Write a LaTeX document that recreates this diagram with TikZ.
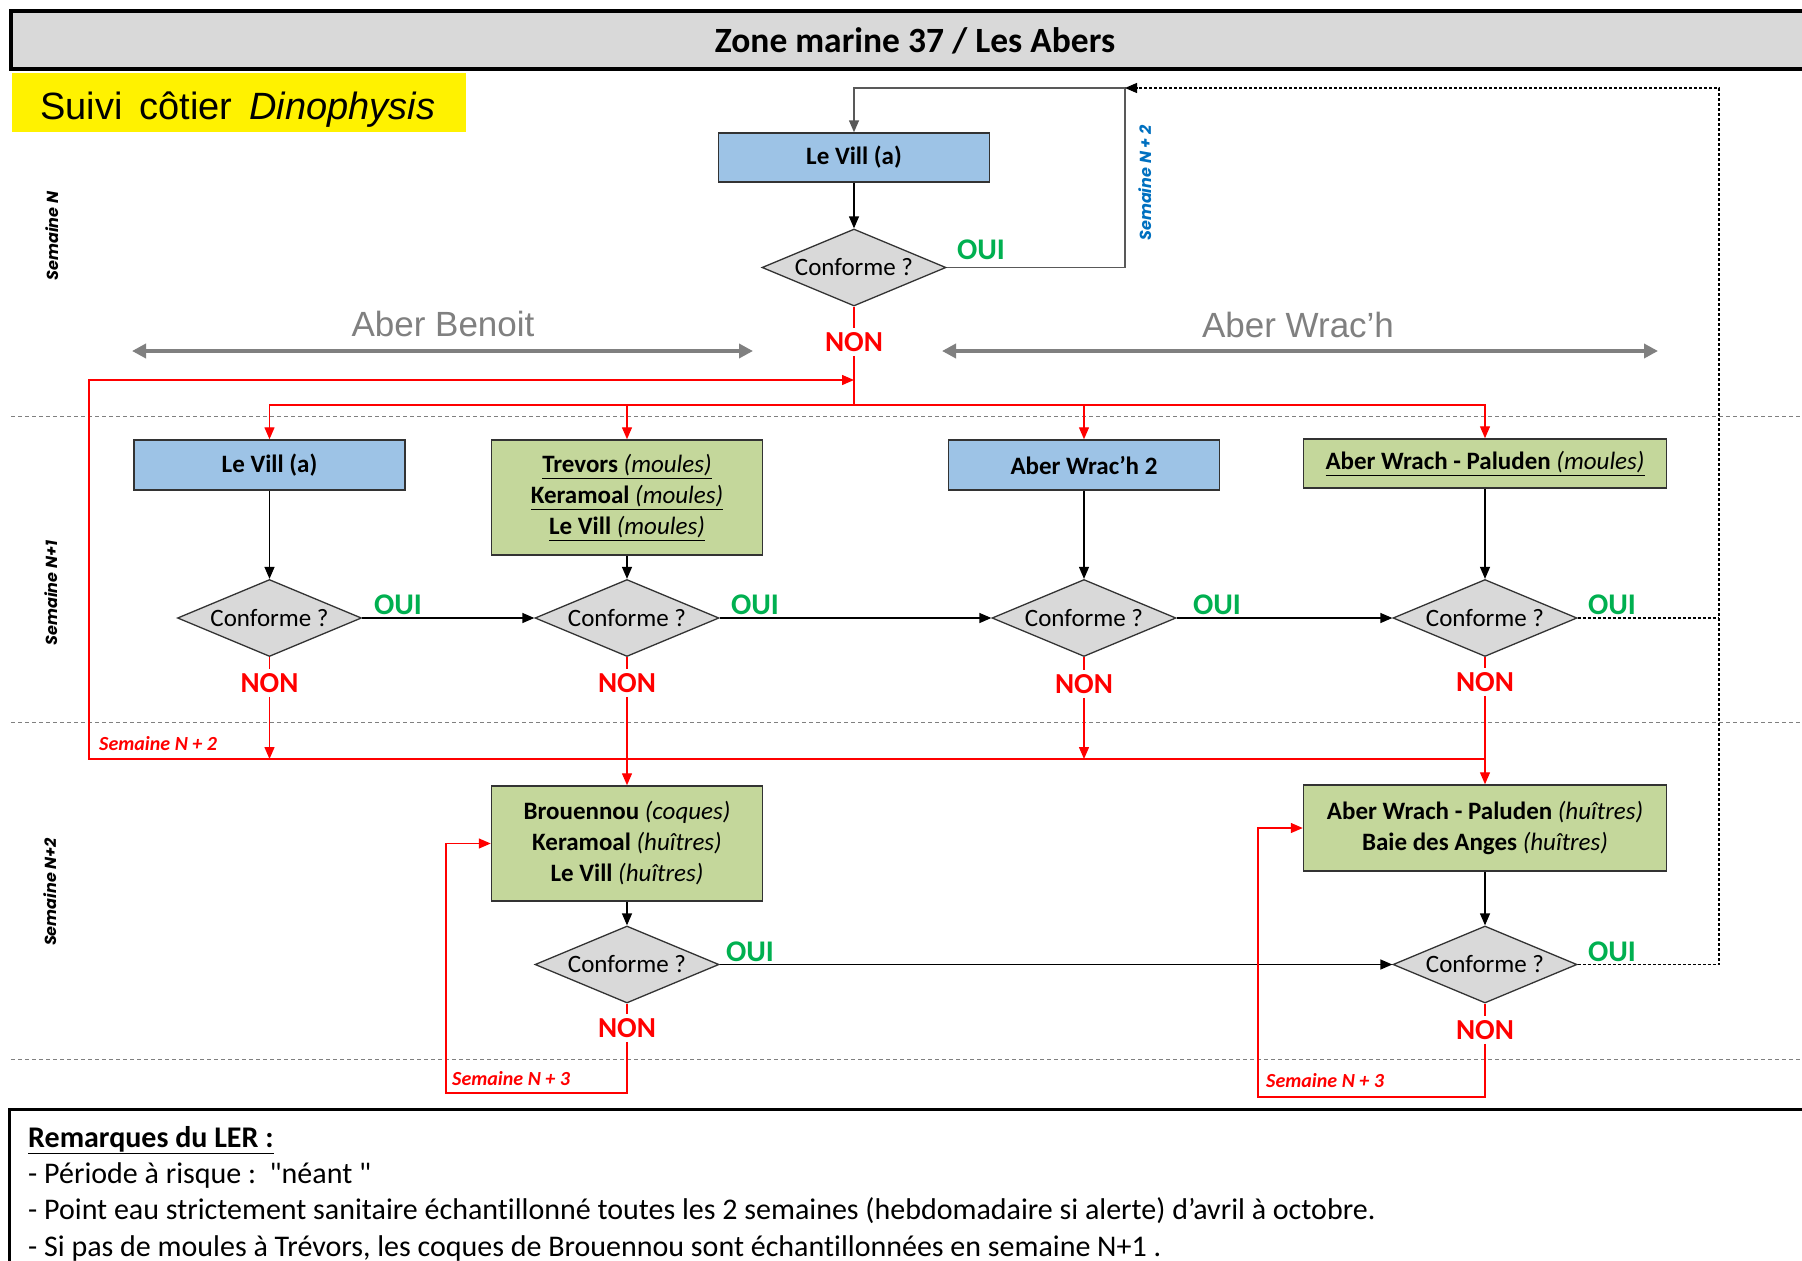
\documentclass[tikz,border=0pt]{standalone}
\usepackage{fontspec}
\setmainfont{Carlito}[Ligatures={TeX,NoCommon}]
\newfontfamily\quotefont{Carlito}
\newfontfamily\arialfont{Liberation Sans}
\newfontfamily\gothfont{Poppins}
\newcommand\myul[1]{\underline{#1}}
\usetikzlibrary{shapes.geometric,arrows.meta}
\definecolor{bluefill}{HTML}{9DC3E6}
\definecolor{greenfill}{HTML}{C4D79B}
\definecolor{diafill}{HTML}{D9D9D9}
\definecolor{titlefill}{HTML}{D9D9D9}
\definecolor{boxborder}{HTML}{333333}
\definecolor{ouigreen}{HTML}{00B050}
\definecolor{semblue}{HTML}{0070C0}
\definecolor{abergray}{HTML}{808080}
\definecolor{topgray}{HTML}{595959}
\tikzset{
  bluebox/.style={draw=boxborder, line width=1.5pt, fill=bluefill, inner sep=0pt,
    font=\fontsize{25}{30}\selectfont\bfseries, align=center},
  greenbox/.style={draw=boxborder, line width=1.5pt, fill=greenfill, inner sep=0pt,
    font=\fontsize{25}{31}\selectfont, align=center},
  decision/.style={diamond, draw=boxborder, line width=1.3pt, fill=diafill,
    minimum width=184pt, minimum height=77pt, inner sep=0pt, aspect=2.4,
    font=\fontsize{25}{28}\selectfont},
  ouilbl/.style={text=ouigreen, font=\fontsize{30}{32}\selectfont\bfseries, inner sep=0pt},
  nonlbl/.style={text=red, font=\fontsize{29}{31}\selectfont\bfseries, inner sep=4pt},
  flow/.style={draw=black, line width=1.3pt, -{Triangle[length=12pt,width=10pt]}},
  grayflow/.style={draw=topgray, line width=1.5pt, -{Triangle[length=12pt,width=10pt]}},
  redline/.style={draw=red, line width=1.4pt},
  redflow/.style={draw=red, line width=1.4pt, -{Triangle[length=12pt,width=10pt]}},
  dotflow/.style={draw=black, line width=1.2pt, dash pattern=on 3pt off 2pt},
  sepline/.style={draw=abergray, line width=1pt, dash pattern=on 4pt off 3pt},
  aberarrow/.style={draw=abergray, line width=3.5pt, {Triangle[length=14pt,width=14pt]}-{Triangle[length=14pt,width=14pt]}},
  aberlbl/.style={text=abergray, font=\arialfont\fontsize{35}{40}\selectfont, anchor=base},
  semblack/.style={rotate=90, font=\gothfont\fontsize{16}{18}\selectfont\bfseries\itshape, inner sep=0pt},
  semred/.style={text=red, anchor=west, font=\fontsize{20}{22}\selectfont\bfseries\itshape, inner sep=0pt},
  remark/.style={anchor=west, font=\fontsize{30}{34}\selectfont, inner sep=0pt},
}
\begin{document}
\begin{tikzpicture}[x=1pt,y=-1pt]
\useasboundingbox (0,0) rectangle (1802,1261);
\fill[white] (0,0) rectangle (1802,1261);

% title bar
\draw[line width=4pt, fill=titlefill] (11,11) rectangle (1815,69);
\node[font=\fontsize{35.5}{38}\selectfont\bfseries] (title) at (915,41) {Zone marine 37 / Les Abers};

% yellow label
\fill[yellow] (12,73) rectangle (466,132);
\node[anchor=base west, inner sep=0pt, font=\arialfont\fontsize{38}{40}\selectfont] (suivi) at (40,119) {Suivi\, côtier\, \textit{Dinophysis}};

% separators
\draw[sepline] (11,416) -- (1802,416);
\draw[sepline] (11,722) -- (1802,722);
\draw[sepline] (11,1059) -- (1802,1059);

% week labels
\node[semblack] (sN) at (52,236) {Semaine N};
\node[semblack] (sN1) at (51,593) {Semaine N+1};
\node[semblack] (sN2) at (50,892) {Semaine N+2};

% aber arrows
\coordinate (abL) at (132,351);
\coordinate (abR) at (753,351);
\coordinate (awL) at (942,351);
\coordinate (awR) at (1658,351);
\draw[aberarrow] (abL) -- (abR);
\draw[aberarrow] (awL) -- (awR);
\node[aberlbl] (aberB) at (443,336) {Aber Benoit};
\node[aberlbl] (aberW) at (1298,337) {Aber Wrac’h};

% nodes week N
\node[bluebox, minimum width=271pt, minimum height=49pt] (b0) at (854,157.5) {Le Vill (a)};
\node[decision] (d0) at (854,267.5) {Conforme ?};
\node[ouilbl] (o0) at (981,250) {OUI};
\node[nonlbl] (n0) at (854,342) {NON};

% nodes week N+1
\node[bluebox, minimum width=271pt, minimum height=50pt] (b1) at (269.5,465) {Le Vill (a)};
\node[greenbox, minimum width=271pt, minimum height=115pt] (b2) at (627,497.5)
  {\myul{\textbf{Trevors} \textit{(moules)}}\\\myul{\textbf{Keramoal} \textit{(moules)}}\\\myul{\textbf{Le Vill} \textit{(moules)}}};
\node[bluebox, minimum width=271pt, minimum height=50pt] (b3) at (1084,465) {Aber Wrac’h 2};
\node[greenbox, minimum width=363pt, minimum height=49pt] (b4) at (1485,463.5)
  {\myul{\textbf{Aber Wrach - Paluden} \textit{(moules)}}};

\node[decision] (d1) at (269.5,618) {Conforme ?};
\node[decision] (d2) at (627,618) {Conforme ?};
\node[decision] (d3) at (1084,618) {Conforme ?};
\node[decision] (d4) at (1485,618) {Conforme ?};

\node[ouilbl] (o1) at (398,605) {OUI};
\node[ouilbl] (o2) at (755,605) {OUI};
\node[ouilbl] (o3) at (1217,605) {OUI};
\node[ouilbl] (o4) at (1612,605) {OUI};

\node[nonlbl] (n1) at (269.5,683) {NON};
\node[nonlbl] (n2) at (627,683) {NON};
\node[nonlbl] (n3) at (1084,684) {NON};
\node[nonlbl] (n4) at (1485,682) {NON};

% nodes week N+2
\node[greenbox, minimum width=271pt, minimum height=115pt] (b5) at (627,843.5)
  {\textbf{Brouennou} \textit{(coques)}\\\textbf{Keramoal} \textit{(huîtres)}\\\textbf{Le Vill} \textit{(huîtres)}};
\node[greenbox, minimum width=363pt, minimum height=86pt] (b6) at (1485,828)
  {\textbf{Aber Wrach - Paluden} \textit{(huîtres)}\\\textbf{Baie des Anges} \textit{(huîtres)}};
\node[decision] (d5) at (627,964.5) {Conforme ?};
\node[decision] (d6) at (1485,964.5) {Conforme ?};
\node[ouilbl] (o5) at (750,952) {OUI};
\node[ouilbl] (o6) at (1612,952) {OUI};
\node[nonlbl] (n5) at (627,1028) {NON};
\node[nonlbl] (n6) at (1485,1030) {NON};

% coordinates
\coordinate (corner) at (1125,88);
\coordinate (vdot) at (1719,88);
\coordinate (junc) at (854,405);
\coordinate (L1) at (89,759);
\coordinate (L2) at (89,380);
\coordinate (c5) at (446,1093);
\coordinate (c6) at (1258,1097);

% black flow
\draw[grayflow] (d0.east) -| (corner) -| (b0.north);
\draw[flow] (b0) -- (d0);
\draw[flow] (b1) -- (d1);
\draw[flow] (b2) -- (d2);
\draw[flow] (b3) -- (d3);
\draw[flow] (b4) -- (d4);
\draw[flow] (d1.east) -- (d2.west);
\draw[flow] (d2.east) -- (d3.west);
\draw[flow] (d3.east) -- (d4.west);
\draw[flow] (b5) -- (d5);
\draw[flow] (b6) -- (d6);
\draw[flow] (d5.east) -- (d6.west);

% dotted returns
\draw[dotflow] (d4.east) -- (d4.east -| vdot);
\draw[dotflow, -{Triangle[length=12pt,width=10pt]}] (d6.east) -| (vdot) -- (corner);

% blue label
\node[rotate=90, text=semblue, font=\gothfont\fontsize{16}{18}\selectfont\bfseries\itshape, inner sep=0pt] (sN2blue) at (1145,183) {Semaine N + 2};

% red flow week N
\draw[redline] (d0.south) -- (n0.north);
\draw[redline] (n0.south) -- (junc);
\draw[redflow] (junc) -| (b1.north);
\draw[redflow] (junc) -| (b2.north);
\draw[redflow] (junc) -| (b3.north);
\draw[redflow] (junc) -| (b4.north);

% red flow week N+1
\draw[redline] (d1.south) -- (n1.north);
\draw[redline] (d2.south) -- (n2.north);
\draw[redline] (d3.south) -- (n3.north);
\draw[redline] (d4.south) -- (n4.north);
\draw[redflow] (n1.south) -- (n1.south |- L1);
\draw[redflow] (n3.south) -- (n3.south |- L1);
\draw[redflow] (n2.south) -- (b5.north);
\draw[redflow] (n4.south) -- (b6.north);
\draw[redflow] (n4.south |- L1) -- (L1) -- (L2) -- (L2 -| junc);
\node[semred] (sN2red) at (99,744) {Semaine N + 2};

% red flow week N+2
\draw[redline] (d5.south) -- (n5.north);
\draw[redline] (d6.south) -- (n6.north);
\draw[redflow] (n5.south) |- (c5) |- (b5.west);
\draw[redflow] (n6.south) |- (c6) |- (b6.west);
\node[semred] (sN3a) at (452,1079) {Semaine N + 3};
\node[semred] (sN3b) at (1266,1081) {Semaine N + 3};

% remarks
\draw[line width=3pt] (9,1275) -- (9,1109) -- (1815,1109);
\node[remark, font=\fontsize{30}{34}\selectfont\bfseries] (r0) at (28,1140) {\myul{Remarques du LER :}};
\node[remark] (r1) at (28,1175) {- Période à risque :\ \ {\quotefont "}néant {\quotefont "}};
\node[remark] (r2) at (28,1211) {- Point eau strictement sanitaire échantillonné toutes les 2 semaines (hebdomadaire si alerte) d’avril à octobre.};
\node[remark] (r3) at (28,1248) {- Si pas de moules à Trévors, les coques de Brouennou sont échantillonnées en semaine N+1 .};
\end{tikzpicture}
\end{document}
